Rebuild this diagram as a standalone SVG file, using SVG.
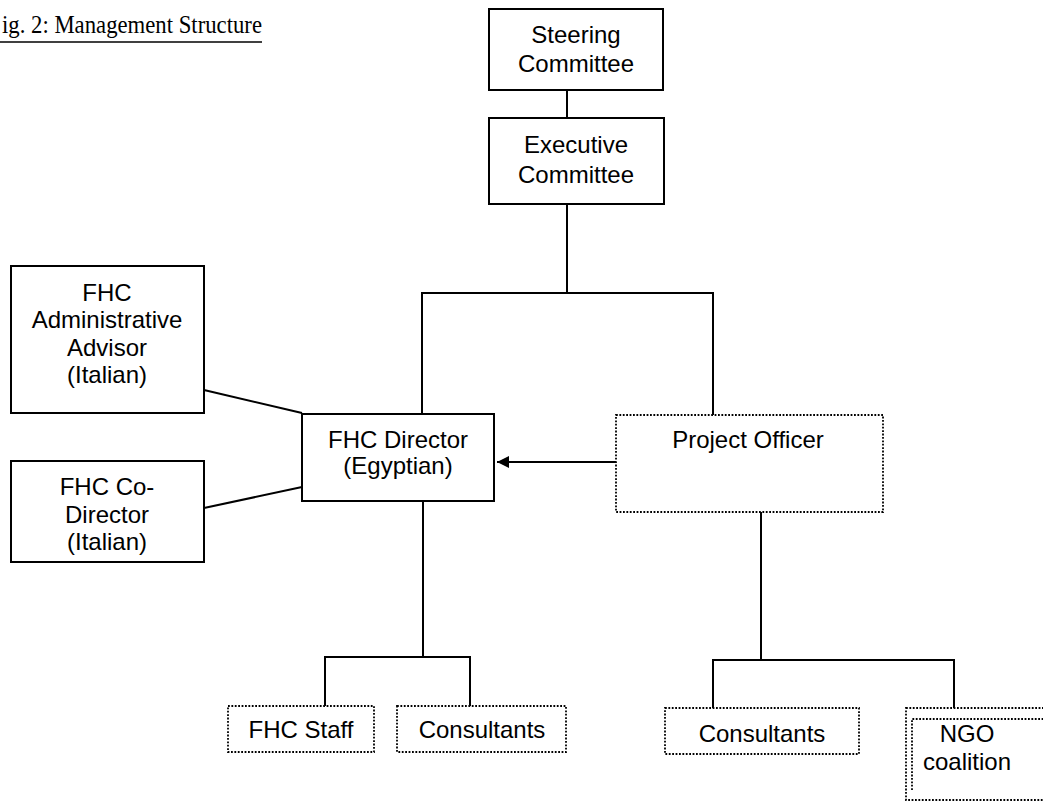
<svg xmlns="http://www.w3.org/2000/svg" width="1043" height="802" viewBox="0 0 1043 802">
<defs>
<style>
.box{fill:#fff;stroke:#000;stroke-width:2}
.dbox{fill:#fff;stroke:#000;stroke-width:1.8;stroke-dasharray:1.8 1.6}
.t{font-family:"Liberation Sans",Arial,sans-serif;font-size:24px;fill:#000;text-anchor:middle}
.c{fill:none;stroke:#000;stroke-width:2}
</style>
<marker id="arr" viewBox="0 0 10 10" refX="10" refY="5" markerWidth="16" markerHeight="12" markerUnits="userSpaceOnUse" orient="auto">
<path d="M0,0 L10,5 L0,10 Z" fill="#000"/>
</marker>
</defs>
<rect width="1043" height="802" fill="#fff"/>
<g id="title">
<text transform="translate(2,33) scale(1,1.12)" x="0" y="0" font-family="Liberation Serif,'Times New Roman',serif" font-size="23" fill="#000" textLength="260" lengthAdjust="spacingAndGlyphs">ig. 2: Management Structure</text>
<line x1="0" y1="42" x2="262" y2="42" stroke="#000" stroke-width="1.6"/>
</g>
<g id="connectors">
<line class="c" x1="567" y1="90" x2="567" y2="118"/>
<line class="c" x1="567" y1="204" x2="567" y2="293"/>
<polyline class="c" points="422,414 422,293 713,293 713,415"/>
<line class="c" x1="204" y1="390" x2="302" y2="413"/>
<line class="c" x1="204" y1="508" x2="302" y2="487"/>
<line class="c" x1="616" y1="462" x2="497" y2="462" marker-end="url(#arr)"/>
<line class="c" x1="423" y1="501" x2="423" y2="657"/>
<polyline class="c" points="325,706 325,657 470,657 470,706"/>
<line class="c" x1="761" y1="512" x2="761" y2="660"/>
<polyline class="c" points="713,708 713,660 954,660 954,708"/>
</g>
<g id="steering">
<rect class="box" x="489" y="9" width="174" height="81"/>
<text class="t" x="576" y="43">Steering</text>
<text class="t" x="576" y="72">Committee</text>
</g>
<g id="executive">
<rect class="box" x="489" y="118" width="175" height="86"/>
<text class="t" x="576" y="153">Executive</text>
<text class="t" x="576" y="183">Committee</text>
</g>
<g id="admin-advisor">
<rect class="box" x="11" y="266" width="193" height="147"/>
<text class="t" x="107" y="301">FHC</text>
<text class="t" x="107" y="328">Administrative</text>
<text class="t" x="107" y="356">Advisor</text>
<text class="t" x="107" y="383">(Italian)</text>
</g>
<g id="co-director">
<rect class="box" x="11" y="461" width="193" height="101"/>
<text class="t" x="107" y="495">FHC Co-</text>
<text class="t" x="107" y="523">Director</text>
<text class="t" x="107" y="550">(Italian)</text>
</g>
<g id="fhc-director">
<rect class="box" x="302" y="414" width="192" height="87"/>
<text class="t" x="398" y="448">FHC Director</text>
<text class="t" x="398" y="474">(Egyptian)</text>
</g>
<g id="project-officer">
<rect class="dbox" x="616" y="415" width="267" height="97"/>
<text class="t" x="748" y="448">Project Officer</text>
</g>
<g id="fhc-staff">
<rect class="dbox" x="228" y="706" width="146" height="46"/>
<text class="t" x="301" y="738">FHC Staff</text>
</g>
<g id="consultants-1">
<rect class="dbox" x="397" y="706" width="169" height="46"/>
<text class="t" x="482" y="738">Consultants</text>
</g>
<g id="consultants-2">
<rect class="dbox" x="665" y="708" width="194" height="46"/>
<text class="t" x="762" y="742">Consultants</text>
</g>
<g id="ngo">
<rect class="dbox" x="906" y="708" width="160" height="92"/>
<path class="dbox" d="M912,790 L912,719 L1050,719" fill="none"/>
<text class="t" x="967" y="742">NGO</text>
<text class="t" x="967" y="770">coalition</text>
</g>
</svg>
